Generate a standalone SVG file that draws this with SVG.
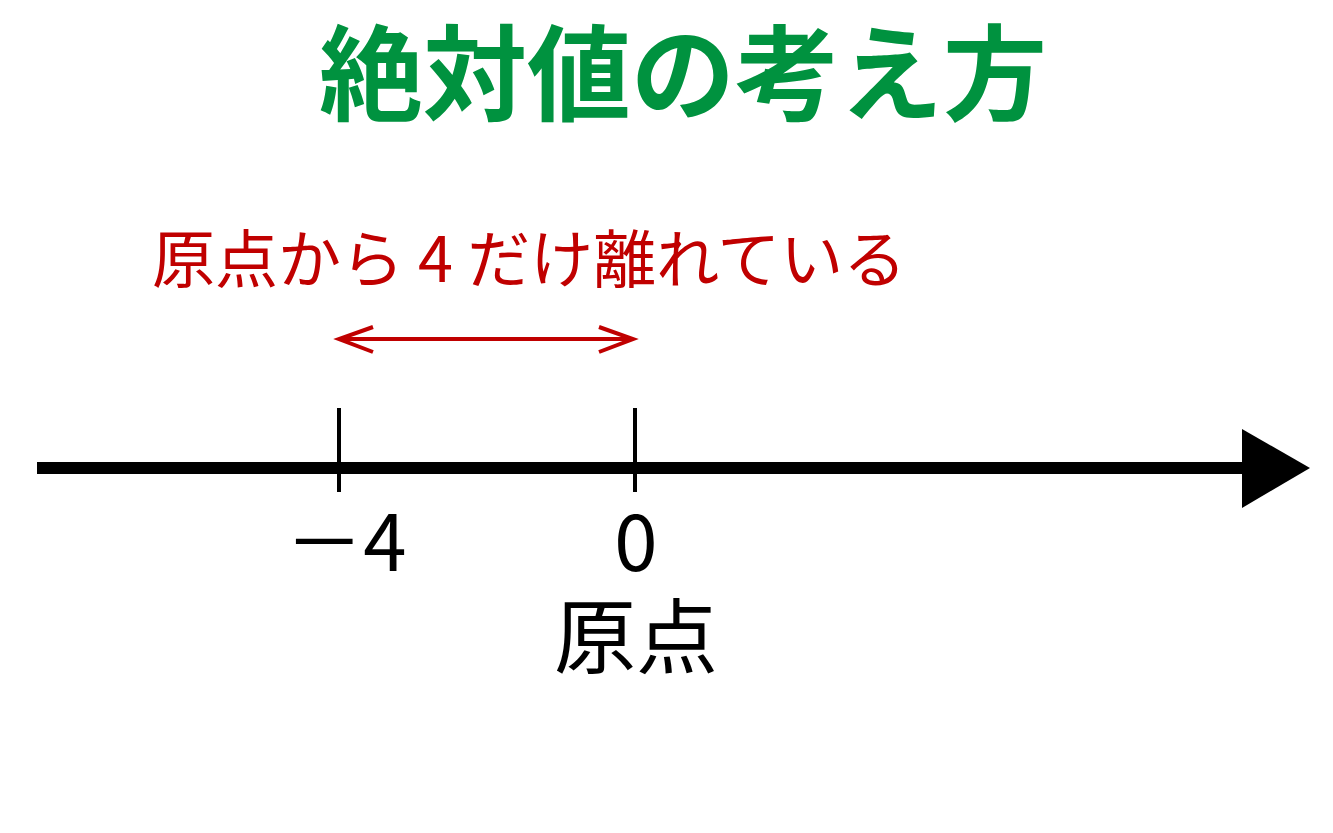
<svg xmlns="http://www.w3.org/2000/svg" width="1333" height="833" viewBox="0 0 1333 833">
<style>
.jp{font-family:"Noto Sans CJK JP","Noto Sans CJK SC",sans-serif}
.title{font-size:104px;font-weight:bold;fill:#00923f}
.red{font-size:63px;fill:#c00000}
.blk{fill:#000}
.tick{stroke:#000;stroke-width:4}
.axis{stroke:#000;stroke-width:12}
.dist{stroke:#c00000;stroke-width:4;fill:none}
</style>
<rect width="1333" height="833" fill="#fff"/>
<g id="title"><text class="jp title" x="683" y="113" text-anchor="middle">絶対値の考え方</text></g>
<g id="label-distance"><text class="jp red" x="152" y="282">原点から 4 だけ離れている</text></g>
<g id="connectors">
<line class="axis" x1="37" y1="468" x2="1244" y2="468"/>
<polygon points="1242,429 1310,468 1242,508" fill="#000"/>
<line class="tick" x1="339" y1="408" x2="339" y2="492"/>
<line class="tick" x1="635" y1="408" x2="635" y2="492"/>
<line class="dist" x1="339" y1="339" x2="633" y2="339"/>
<polyline class="dist" points="373,327 339,339 373,352"/>
<polyline class="dist" points="599,327 633,339 599,352"/>
</g>
<g id="label-minus4"><text class="jp blk" x="346" y="571" font-size="78" text-anchor="middle">－4</text></g>
<g id="label-zero"><text class="jp blk" x="636" y="571" font-size="78" text-anchor="middle">0</text></g>
<g id="label-origin"><text class="jp blk" x="636" y="667" font-size="82" text-anchor="middle">原点</text></g>
</svg>
